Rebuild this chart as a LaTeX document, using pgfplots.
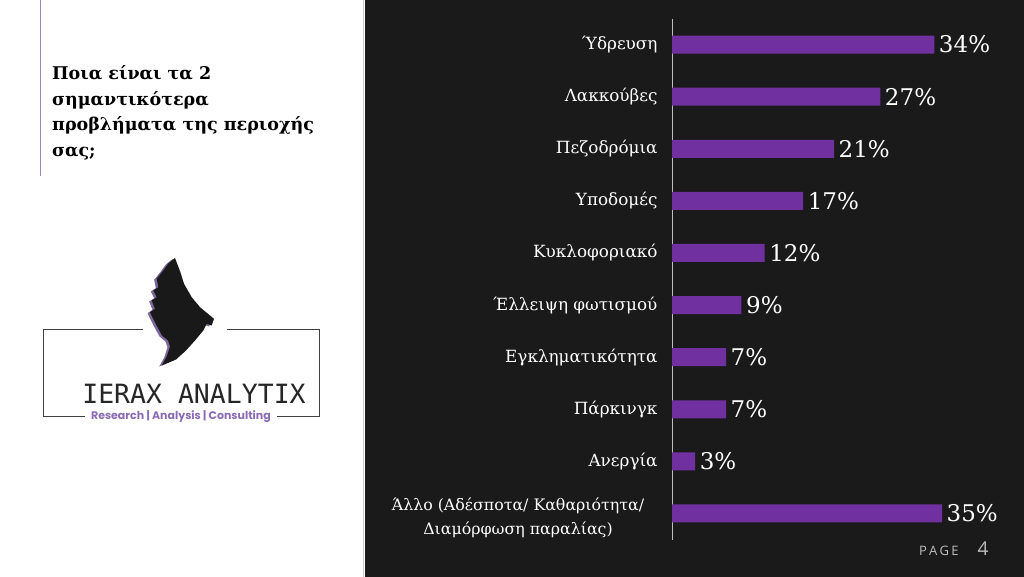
\documentclass[border=0pt]{standalone}
\usepackage{fontspec}
\setmainfont{DejaVu Serif}
\newfontfamily\monofont{DejaVu Sans Mono}
\newfontfamily\logosans{Poppins}
\newfontfamily\pagefont{Open Sans}
\usepackage{pgfplots}
\pgfplotsset{compat=1.18}

\definecolor{bg}{HTML}{1A1A1A}
\definecolor{barpurple}{HTML}{7030A0}
\definecolor{lightpurple}{HTML}{9B82C4}
\definecolor{logopurple}{HTML}{8A6BB4}
\definecolor{pagegray}{HTML}{BFBFBF}

\def\birdpath{(175,318.5) -- (180.5,304) -- (184,292.7) -- (191.7,279.3) -- (200,269.3)
  -- (207,263.5) -- (214,257.7) -- (211.7,251) -- (206.7,252.7) -- (203.3,246)
  -- (195,236) -- (186,226) -- (176,217) -- (161.7,211) -- (166.7,220)
  -- (170,230) -- (168,236) -- (162,241) -- (156,252) -- (150,264.3)
  -- (155,267.7) -- (151.7,276) -- (156.7,279.3) -- (153.3,286) -- (158.3,289.3)
  -- (156.7,297.7) -- (163.3,306) -- (168.3,313) -- cycle}

\begin{document}
\begin{tikzpicture}[x=1pt,y=1pt]
% page panels
\fill[white] (0,0) rectangle (365,576);
\fill[bg] (365,0) rectangle (1024,576);
\draw[gray!40, line width=0.6pt] (363,0) -- (363,576);
\draw[lightpurple, line width=1pt] (40,576) -- (40,401);

% title
\node[anchor=north west, align=left, inner sep=0pt, font=\fontsize{17.5}{25.5}\selectfont\bfseries]
  at (52,511) {Ποια είναι τα 2\\σημαντικότερα\\προβλήματα της περιοχής\\σας;};

% logo
\draw[black!75, line width=0.8pt] (143,247) -- (43,247) -- (43,160) -- (85,160);
\draw[black!75, line width=0.8pt] (227,247) -- (319,247) -- (319,160) -- (277,160);
\node[font=\monofont\fontsize{26.5}{27}\selectfont, text=black!85] at (194,183) {IERAX ANALYTIX};
\node[font=\logosans\bfseries\fontsize{11}{11}\selectfont, text=logopurple] at (181,160)
  {Research | Analysis | Consulting};
\begin{scope}[shift={(-2.5,-1)}]
\fill[lightpurple!80!black] \birdpath;
\end{scope}
\fill[black!90] \birdpath;

% page number
\node[anchor=base east, font=\pagefont\fontsize{13}{13}\selectfont, text=pagegray] at (962,21)
  {P\,A\,G\,E};
\node[anchor=base west, font=\pagefont\fontsize{19}{19}\selectfont, text=pagegray] at (974,21) {4};

% chart
\begin{axis}[
  at={(672pt,37pt)}, anchor=south west,
  scale only axis, width=270pt, height=521pt,
  xmin=0, xmax=35, ymin=-0.5, ymax=9.5, y dir=reverse,
  xbar, bar width=18pt,
  axis x line=none, axis y line*=left,
  y axis line style={-, draw=pagegray, line width=0.6pt},
  ytick={0,...,9}, major tick length=0pt,
  yticklabels={Ύδρευση, Λακκούβες, Πεζοδρόμια, Υποδομές, Κυκλοφοριακό, Έλλειψη φωτισμού,
    Εγκληματικότητα, Πάρκινγκ, Ανεργία, {}},
  yticklabel style={text=white, font=\fontsize{16.8}{24}\selectfont, xshift=-11pt},
  /pgf/number format/assume math mode=true,
  nodes near coords={\pgfmathprintnumber{\pgfplotspointmeta}\%},
  nodes near coords style={text=white, anchor=west, font=\fontsize{23}{23}\selectfont, inner sep=4.5pt},
  clip=false,
]
\addplot[fill=barpurple, draw=none] coordinates {
  (34,0) (27,1) (21,2) (17,3) (12,4) (9,5) (7,6) (7,7) (3,8) (35,9)
};
\node[anchor=center, align=center, text=white, font=\fontsize{15.8}{24}\selectfont,
  xshift=-154pt, yshift=-4pt]
  at (axis cs:0,9) {Άλλο (Αδέσποτα/ Καθαριότητα/\\Διαμόρφωση παραλίας)};
\end{axis}
\end{tikzpicture}
\end{document}
